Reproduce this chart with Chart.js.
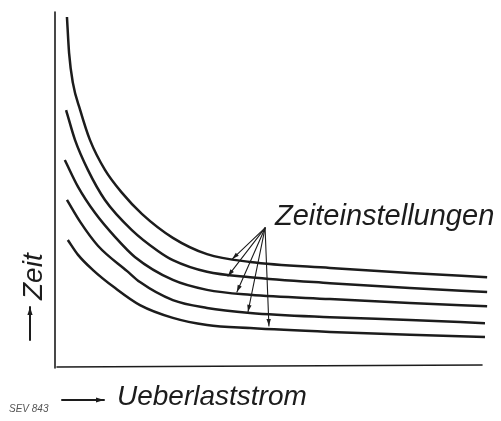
<!DOCTYPE html>
<html>
<head>
<meta charset="utf-8">
<script src="https://cdn.jsdelivr.net/npm/chart.js@4"></script>
<style>
  html, body { margin: 0; padding: 0; background: #fff; }
  #wrap { width: 501px; height: 421px; }
</style>
</head>
<body>
<div id="wrap"><canvas id="relayChart" width="501" height="421"></canvas></div>
<script>
// ── Overload relay – time settings (Zeiteinstellungen) ──

// x = overload current, y = trip time (relative units 0..100)
const curve1X = [2.8, 3.3, 4.2, 5.9, 8.2, 11.7, 15.7, 20.4, 27.6, 35.6, 45.7, 64.4, 83.1, 101.2];
const curve1Y = [98.6, 88.4, 79.9, 72.3, 63.8, 55.4, 48.9, 42.9, 36.2, 31.6, 29.4, 27.7, 26.3, 25.1];
const curve2X = [2.6, 4.7, 7.7, 11.7, 18.0, 24.1, 27.6, 35.6, 45.7, 64.4, 83.1, 101.2];
const curve2Y = [72.3, 63.8, 55.4, 46.9, 38.4, 32.5, 29.9, 26.6, 25.1, 23.4, 22.0, 20.9];
const curve3X = [2.3, 5.4, 9.4, 14.1, 18.7, 27.6, 35.6, 45.7, 64.4, 83.1, 101.2];
const curve3Y = [58.2, 50.6, 43.2, 36.4, 30.8, 24.3, 21.5, 20.1, 18.9, 17.8, 16.9];
const curve4X = [2.8, 5.9, 10.1, 16.9, 19.9, 27.6, 35.6, 45.7, 64.4, 83.1, 100.7];
const curve4Y = [46.9, 40.7, 33.9, 26.8, 23.7, 18.6, 16.4, 15.0, 13.8, 13.0, 12.1];
const curve5X = [3.0, 5.4, 8.9, 14.1, 19.9, 27.6, 35.6, 45.7, 64.4, 83.1, 100.7];
const curve5Y = [35.6, 31.4, 27.1, 22.0, 17.2, 13.6, 11.6, 10.7, 9.6, 8.8, 8.2];

// label pointer: common origin and the tip on each curve
const pointerFrom = [49.2, 39.0];
const pointerTipX = [41.5, 40.5, 42.6, 45.2, 50.1];
const pointerTipY = [30.2, 25.4, 20.9, 15.3, 11.3];

const labelSettings = 'Zeiteinstellungen';
const labelTime = 'Zeit';
const labelCurrent = 'Ueberlaststrom';
const labelFig = 'SEV 843';

const ink = '#1c1c1c';
const toPts = (xs, ys) => xs.map((x, i) => ({ x: x, y: ys[i] }));
const curve = (xs, ys) => ({
  data: toPts(xs, ys), borderColor: ink, borderWidth: 2.5, pointRadius: 0,
  cubicInterpolationMode: 'monotone', fill: false, clip: false
});

function arrowHead(ctx, x1, y1, x2, y2, len, half) {
  const a = Math.atan2(y2 - y1, x2 - x1);
  ctx.beginPath();
  ctx.moveTo(x2, y2);
  ctx.lineTo(x2 - len * Math.cos(a) + half * Math.sin(a), y2 - len * Math.sin(a) - half * Math.cos(a));
  ctx.lineTo(x2 - len * Math.cos(a) - half * Math.sin(a), y2 - len * Math.sin(a) + half * Math.cos(a));
  ctx.closePath();
  ctx.fill();
}
function arrow(ctx, x1, y1, x2, y2, w, len, half) {
  ctx.lineWidth = w;
  ctx.beginPath(); ctx.moveTo(x1, y1); ctx.lineTo(x2, y2); ctx.stroke();
  arrowHead(ctx, x1, y1, x2, y2, len, half);
}

const drawing = {
  id: 'drawing',
  afterDraw(chart) {
    const { ctx, chartArea: a, scales: { x, y } } = chart;
    ctx.save();
    ctx.strokeStyle = ink; ctx.fillStyle = ink; ctx.lineCap = 'round';
    // axes
    ctx.lineWidth = 1.6;
    ctx.beginPath();
    ctx.moveTo(a.left, a.top); ctx.lineTo(a.left, a.bottom + 2);
    ctx.moveTo(a.left + 2, a.bottom + 1); ctx.lineTo(a.right, a.bottom - 1);
    ctx.stroke();
    // pointer arrows
    const fx = x.getPixelForValue(pointerFrom[0]), fy = y.getPixelForValue(pointerFrom[1]);
    pointerTipX.forEach((v, i) => {
      arrow(ctx, fx, fy, x.getPixelForValue(v), y.getPixelForValue(pointerTipY[i]), 1.1, 7, 2.2);
    });
    // texts
    ctx.font = 'italic 29px "Liberation Sans", Arial, sans-serif';
    ctx.textBaseline = 'alphabetic'; ctx.textAlign = 'left';
    ctx.fillText(labelSettings, 275, 225);
    ctx.font = 'italic 28px "Liberation Sans", Arial, sans-serif';
    ctx.fillText(labelCurrent, 117, 405);
    ctx.save();
    ctx.translate(42, 300); ctx.rotate(-Math.PI / 2);
    ctx.fillText(labelTime, 0, 0);
    ctx.restore();
    arrow(ctx, 30, 340, 30, 307, 2, 8, 2.6);
    arrow(ctx, 62, 400, 104, 400, 2, 8, 2.6);
    ctx.font = 'italic 10px "Liberation Sans", Arial, sans-serif';
    ctx.fillStyle = '#555';
    ctx.fillText(labelFig, 9, 412);
    ctx.restore();
  }
};

new Chart(document.getElementById('relayChart').getContext('2d'), {
  type: 'line',
  data: {
    datasets: [
      curve(curve1X, curve1Y),
      curve(curve2X, curve2Y),
      curve(curve3X, curve3Y),
      curve(curve4X, curve4Y),
      curve(curve5X, curve5Y)
    ]
  },
  options: {
    responsive: false, animation: false, devicePixelRatio: 1,
    layout: { padding: { left: 55, top: 12, right: 19, bottom: 55 } },
    plugins: { legend: { display: false }, tooltip: { enabled: false } },
    scales: {
      x: { type: 'linear', min: 0, max: 100, display: false },
      y: { type: 'linear', min: 0, max: 100, display: false }
    }
  },
  plugins: [drawing]
});
</script>
</body>
</html>
